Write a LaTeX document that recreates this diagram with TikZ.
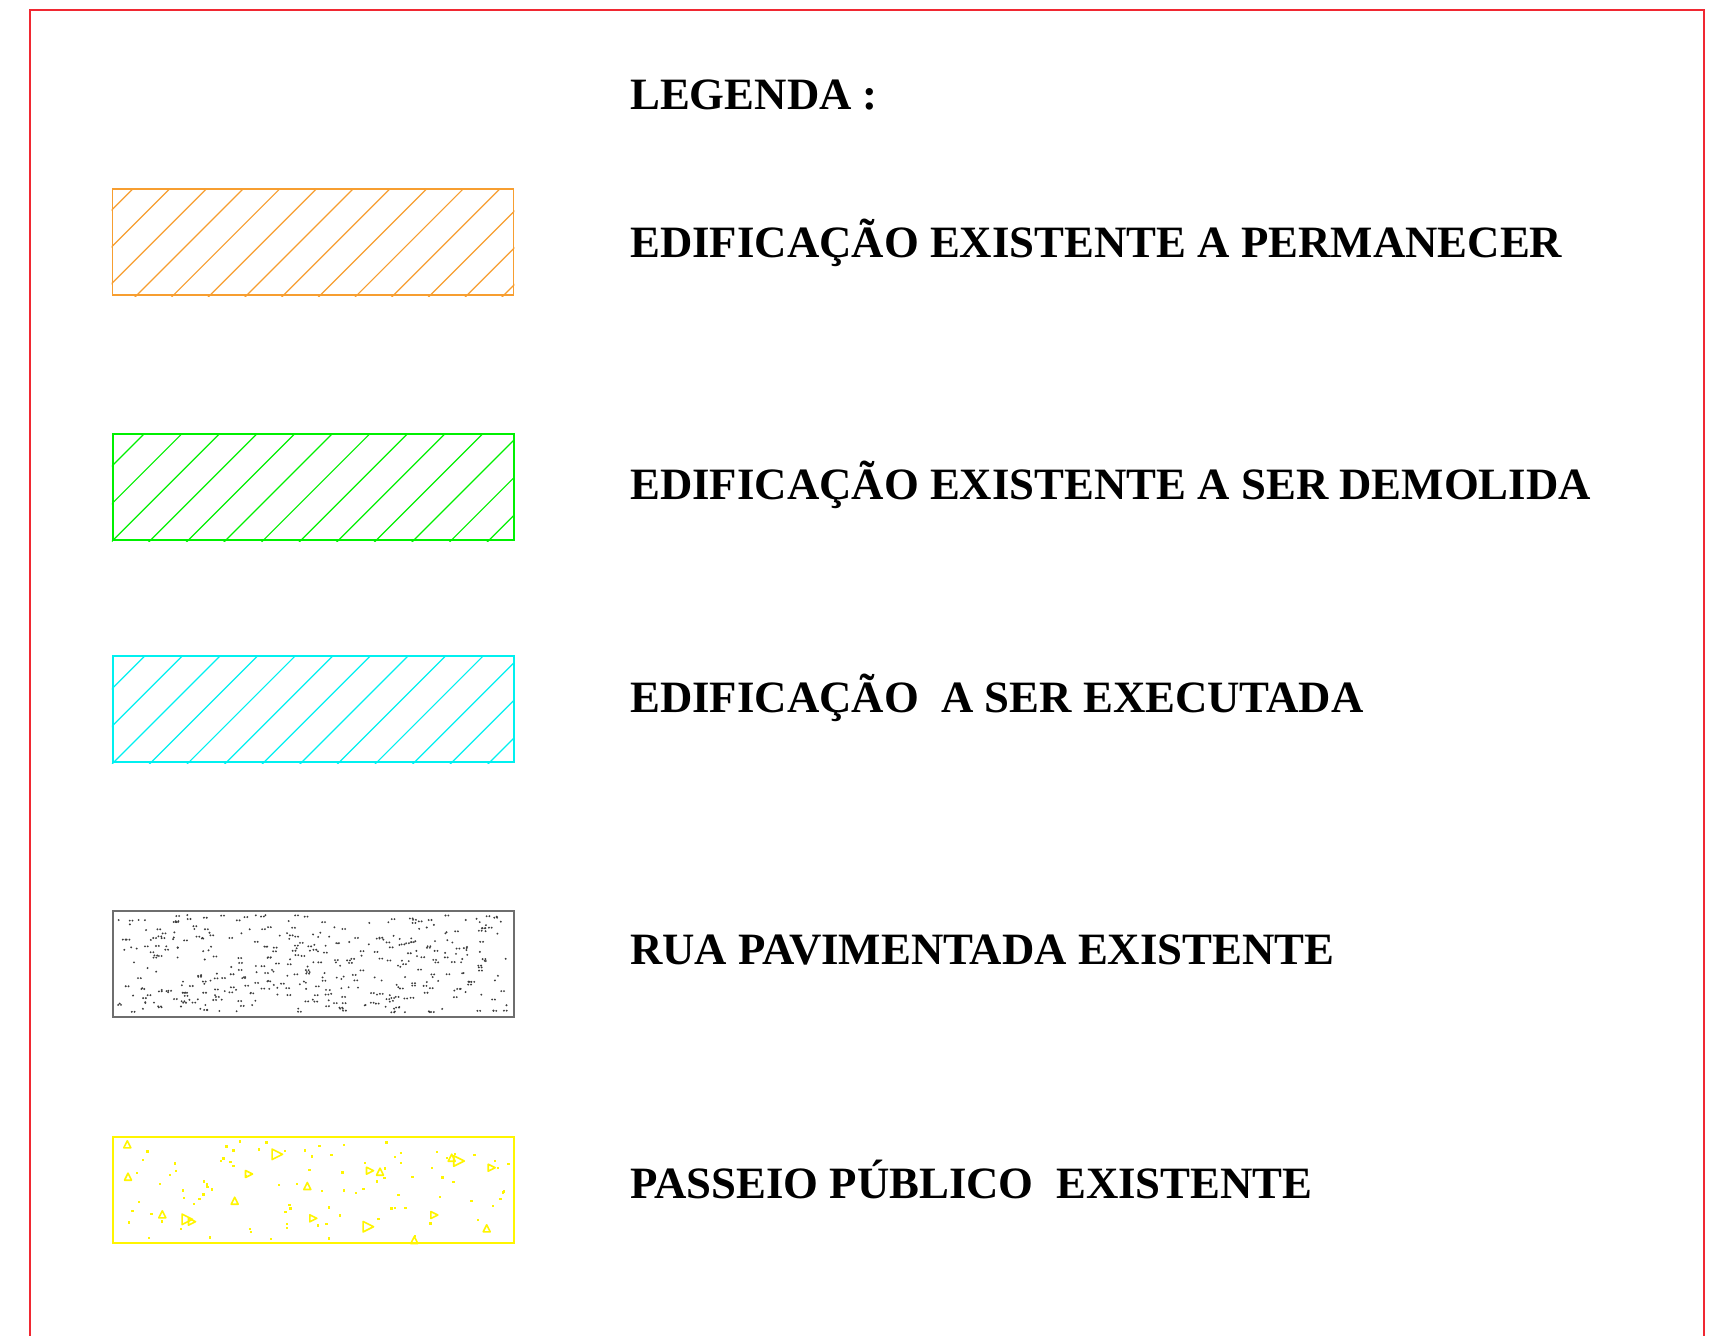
\documentclass[tikz,border=0pt]{standalone}
\usepackage{fontspec}
\setmainfont{Liberation Serif}
\definecolor{frame}{RGB}{240,40,50}
\definecolor{orng}{RGB}{247,158,48}
\definecolor{grn}{RGB}{0,240,0}
\definecolor{cyn}{RGB}{0,240,240}
\definecolor{gryb}{RGB}{110,110,110}
\definecolor{gryd}{RGB}{60,60,60}
\definecolor{yel}{RGB}{255,245,0}
\begin{document}
\begin{tikzpicture}[x=1pt,y=-1pt,
  legtext/.style={anchor=base west, inner sep=0pt, font=\fontsize{44.8}{53}\selectfont\bfseries},
  legbox/.style={draw, line width=1.7pt, minimum width=401pt, minimum height=106pt, inner sep=0pt},
  hatchline/.style={line width=1.2pt},
  triup/.pic={\draw[yel,line width=1.6pt,line join=round] (-3.5,3.5) -- (0,-3.5) -- (3.5,3.5) -- cycle;},
  triright/.pic={\draw[yel,line width=1.6pt,line join=round] (-3.5,-3.5) -- (3.5,0) -- (-3.5,3.5) -- cycle;}]
\useasboundingbox (0,0) rectangle (1709,1336);
\fill[white] (0,0) rectangle (1709,1336);
% frame
\draw[frame, line width=1.8pt] (30.3,1336) -- (30.3,10.3) -- (1704.3,10.3) -- (1704.3,1336);

% title
\node[legtext] (t0) at (630,109) {LEGENDA :};

% boxes
\node[legbox, draw=orng] (b1) at (313,242.25) {};
\node[legbox, draw=grn]  (b2) at (313.2,487.3) {};
\node[legbox, draw=cyn]  (b3) at (313.2,709.2) {};
\node[legbox, draw=gryb] (b4) at (313.2,963.7) {};
\node[legbox, draw=yel]  (b5) at (313.2,1190.2) {};

% hatch orange
\begin{scope}
\clip (b1.south west) rectangle (b1.north east);
\foreach \k in {-1,...,14} {
  \pgfmathsetmacro\cc{321.8+36.7*\k}
  \draw[orng,hatchline] ({\cc-150},150) -- ({\cc-350},350);
}
\end{scope}
% hatch green
\begin{scope}
\clip (b2.south west) rectangle (b2.north east);
\foreach \k in {-1,...,14} {
  \pgfmathsetmacro\cc{578+37.6*\k}
  \draw[grn,hatchline] ({\cc-400},400) -- ({\cc-580},580);
}
\end{scope}
% hatch cyan
\begin{scope}
\clip (b3.south west) rectangle (b3.north east);
\foreach \k in {-1,...,14} {
  \pgfmathsetmacro\cc{800.7+37.6*\k}
  \draw[cyn,hatchline] ({\cc-620},620) -- ({\cc-800},800);
}
\end{scope}
% gray dots
\pgfmathsetseed{4711}
\foreach \i in {1,...,400} {
  \pgfmathsetmacro\rx{117+390*rnd}
  \pgfmathsetmacro\ry{915+98*rnd}
  \pgfmathtruncatemacro\pp{100*rnd}
  \fill[gryd] (\rx,\ry) circle (1.05);
  \ifnum\pp<55 \fill[gryd] ({\rx+2.8},\ry) circle (1.05); \fi
}
% yellow dots
\pgfmathsetseed{2024}
\foreach \i in {1,...,95} {
  \pgfmathsetmacro\rx{117+392*rnd}
  \pgfmathsetmacro\ry{1141+98*rnd}
  \fill[yel] ({\rx-1.2},{\ry-1.2}) rectangle ++(2.4,2.4);
}
% yellow triangles
\foreach \x/\y/\s in {127.3/1144.3/1, 128/1176.7/1, 380/1171.7/1, 451.7/1157.7/1, 307.3/1186/1, 234.7/1200.7/1, 162.3/1214.3/1, 486.7/1228.3/1, 414.3/1240/1}
  \pic[scale=\s] at (\x,\y) {triup};
\foreach \x/\y/\s in {277.3/1154.3/1.5, 249/1174/1, 370/1170.7/1, 459/1161/1.5, 491.7/1167.7/1, 187.3/1219.3/1.5, 192/1221.7/1, 313.3/1218.3/1, 368.3/1226.7/1.5, 434.3/1215/1}
  \pic[scale=\s] at (\x,\y) {triright};

% labels
\node[legtext] (t1) at (630,257) {EDIFICAÇÃO EXISTENTE A PERMANECER};
\node[legtext] (t2) at (630,499.5) {EDIFICAÇÃO EXISTENTE A SER DEMOLIDA};
\node[legtext] (t3) at (630,712) {EDIFICAÇÃO\ \ A SER EXECUTADA};
\node[legtext] (t4) at (630,964) {RUA PAVIMENTADA EXISTENTE};
\node[legtext] (t5) at (630,1198.7) {PASSEIO PÚBLICO\ \ EXISTENTE};
\end{tikzpicture}
\end{document}
